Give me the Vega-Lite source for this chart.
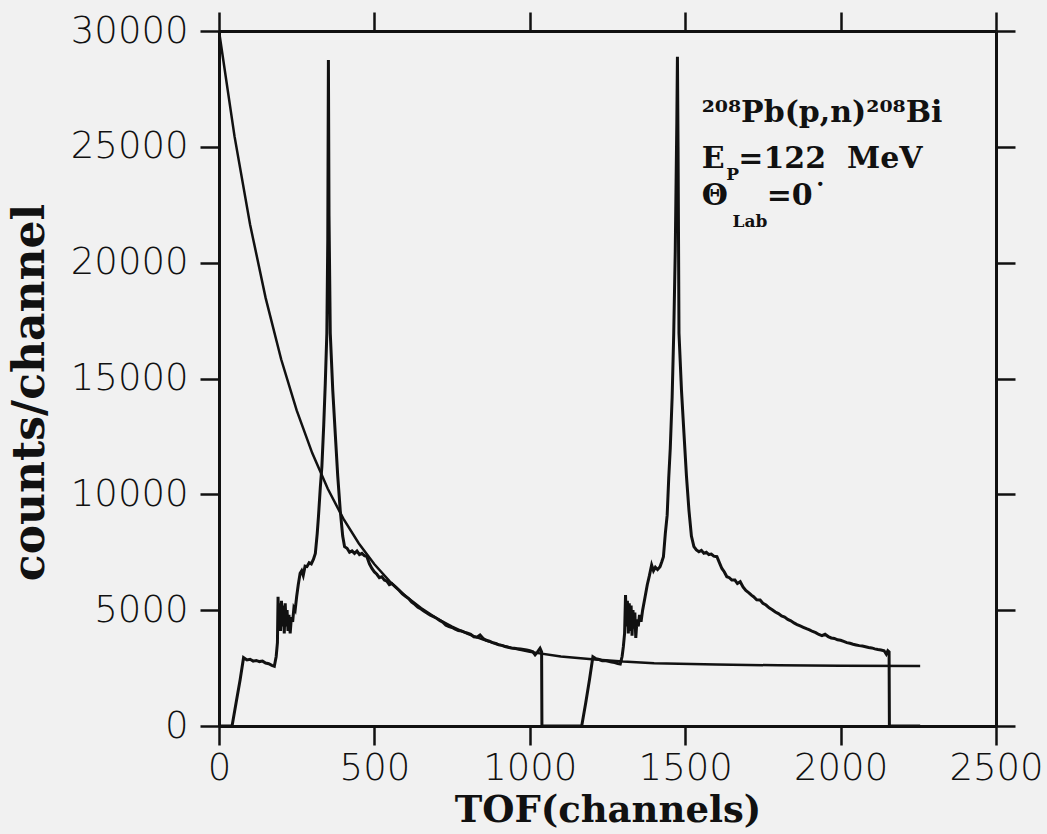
{
  "$schema": "https://vega.github.io/schema/vega-lite/v6.json",
  "width": 777,
  "height": 695,
  "autosize": "none",
  "padding": {"left": 219, "top": 31, "right": 51, "bottom": 108},
  "background": "#f1f1f1",
  "config": {
    "view": {"stroke": null},
    "axis": {
      "domainColor": "#111111",
      "domainWidth": 3,
      "tickColor": "#111111",
      "tickWidth": 2.5,
      "tickSize": 19,
      "grid": false,
      "labelFlush": false,
      "labelOverlap": false,
      "labelFont": "DejaVu Sans",
      "labelFontSize": 37,
      "labelFontWeight": 300,
      "labelColor": "#111111",
      "titleFont": "DejaVu Serif",
      "titleFontWeight": "bold",
      "titleFontSize": 37,
      "titleColor": "#111111"
    }
  },
  "datasets": {
    "spectrum": [
      {"x": 0, "y": 0}, {"x": 42, "y": 0}, {"x": 55, "y": 1000}, {"x": 68, "y": 2000}, {"x": 79, "y": 2950},
      {"x": 90, "y": 2850}, {"x": 100, "y": 2880}, {"x": 110, "y": 2800}, {"x": 120, "y": 2830}, {"x": 130, "y": 2780},
      {"x": 140, "y": 2800}, {"x": 150, "y": 2720}, {"x": 160, "y": 2690}, {"x": 170, "y": 2620}, {"x": 178, "y": 2580},
      {"x": 184, "y": 3000}, {"x": 188, "y": 3600}, {"x": 190, "y": 5580}, {"x": 192, "y": 4200}, {"x": 195, "y": 5300},
      {"x": 198, "y": 4100}, {"x": 201, "y": 5400}, {"x": 204, "y": 4300}, {"x": 207, "y": 5200}, {"x": 210, "y": 4000},
      {"x": 213, "y": 5300}, {"x": 216, "y": 4300}, {"x": 219, "y": 5000}, {"x": 222, "y": 4100}, {"x": 225, "y": 4800},
      {"x": 229, "y": 4000}, {"x": 233, "y": 4700}, {"x": 237, "y": 4500}, {"x": 241, "y": 5100}, {"x": 245, "y": 5000},
      {"x": 250, "y": 5600}, {"x": 255, "y": 6100}, {"x": 261, "y": 6590}, {"x": 266, "y": 6700}, {"x": 271, "y": 6500},
      {"x": 277, "y": 6900}, {"x": 283, "y": 6880}, {"x": 290, "y": 7050}, {"x": 297, "y": 7000}, {"x": 304, "y": 7200},
      {"x": 310, "y": 7450}, {"x": 316, "y": 8300}, {"x": 320, "y": 9035}, {"x": 326, "y": 10300}, {"x": 331, "y": 11190},
      {"x": 337, "y": 13000}, {"x": 342, "y": 14800}, {"x": 347, "y": 16960}, {"x": 350, "y": 21000}, {"x": 352, "y": 28750},
      {"x": 354, "y": 22000}, {"x": 358, "y": 16960}, {"x": 366, "y": 14500}, {"x": 374, "y": 12630}, {"x": 382, "y": 10800},
      {"x": 390, "y": 9320}, {"x": 398, "y": 8200}, {"x": 404, "y": 7740}, {"x": 412, "y": 7670}, {"x": 420, "y": 7500},
      {"x": 428, "y": 7560}, {"x": 436, "y": 7450}, {"x": 444, "y": 7550}, {"x": 452, "y": 7400}, {"x": 460, "y": 7450},
      {"x": 468, "y": 7350}, {"x": 476, "y": 7308}, {"x": 484, "y": 7000}, {"x": 492, "y": 6800}, {"x": 500, "y": 6650},
      {"x": 508, "y": 6550}, {"x": 516, "y": 6400}, {"x": 524, "y": 6444}, {"x": 532, "y": 6300}, {"x": 540, "y": 6250},
      {"x": 548, "y": 6100}, {"x": 556, "y": 6150}, {"x": 564, "y": 6050}, {"x": 572, "y": 5950}, {"x": 580, "y": 5850},
      {"x": 590, "y": 5700}, {"x": 600, "y": 5600}, {"x": 610, "y": 5500}, {"x": 620, "y": 5350}, {"x": 630, "y": 5250},
      {"x": 640, "y": 5120}, {"x": 650, "y": 5050}, {"x": 660, "y": 4950}, {"x": 670, "y": 4870}, {"x": 680, "y": 4780},
      {"x": 690, "y": 4718}, {"x": 700, "y": 4650}, {"x": 710, "y": 4560}, {"x": 720, "y": 4480}, {"x": 730, "y": 4350},
      {"x": 740, "y": 4290}, {"x": 750, "y": 4250}, {"x": 760, "y": 4180}, {"x": 770, "y": 4120}, {"x": 780, "y": 4100},
      {"x": 790, "y": 4050}, {"x": 800, "y": 4010}, {"x": 810, "y": 3960}, {"x": 820, "y": 3850}, {"x": 830, "y": 3830},
      {"x": 840, "y": 3930}, {"x": 850, "y": 3780}, {"x": 860, "y": 3700}, {"x": 870, "y": 3660}, {"x": 880, "y": 3600},
      {"x": 890, "y": 3560}, {"x": 900, "y": 3500}, {"x": 910, "y": 3480}, {"x": 920, "y": 3430}, {"x": 930, "y": 3400},
      {"x": 940, "y": 3370}, {"x": 950, "y": 3360}, {"x": 960, "y": 3340}, {"x": 970, "y": 3320}, {"x": 980, "y": 3300},
      {"x": 990, "y": 3280}, {"x": 1000, "y": 3250}, {"x": 1010, "y": 3200}, {"x": 1017, "y": 3070}, {"x": 1025, "y": 3200},
      {"x": 1033, "y": 3354}, {"x": 1038, "y": 3200}, {"x": 1039, "y": 0}, {"x": 1167, "y": 0}, {"x": 1180, "y": 1000},
      {"x": 1192, "y": 2000}, {"x": 1203, "y": 2990}, {"x": 1213, "y": 2900}, {"x": 1223, "y": 2870}, {"x": 1233, "y": 2820},
      {"x": 1243, "y": 2830}, {"x": 1253, "y": 2790}, {"x": 1263, "y": 2760}, {"x": 1273, "y": 2740}, {"x": 1283, "y": 2700},
      {"x": 1291, "y": 2680}, {"x": 1297, "y": 3000}, {"x": 1301, "y": 3423}, {"x": 1305, "y": 4000}, {"x": 1308, "y": 5650},
      {"x": 1311, "y": 4300}, {"x": 1314, "y": 5400}, {"x": 1317, "y": 4000}, {"x": 1320, "y": 5300}, {"x": 1323, "y": 4100},
      {"x": 1326, "y": 5200}, {"x": 1329, "y": 3900}, {"x": 1332, "y": 5000}, {"x": 1335, "y": 4200}, {"x": 1338, "y": 4900},
      {"x": 1341, "y": 3800}, {"x": 1345, "y": 4600}, {"x": 1349, "y": 4300}, {"x": 1353, "y": 4800}, {"x": 1358, "y": 4500},
      {"x": 1363, "y": 5000}, {"x": 1371, "y": 5580}, {"x": 1378, "y": 6100}, {"x": 1385, "y": 6500}, {"x": 1392, "y": 6950},
      {"x": 1398, "y": 6700}, {"x": 1404, "y": 6850}, {"x": 1411, "y": 6750}, {"x": 1419, "y": 6876}, {"x": 1425, "y": 7100},
      {"x": 1430, "y": 7308}, {"x": 1436, "y": 8300}, {"x": 1442, "y": 9100}, {"x": 1447, "y": 10700}, {"x": 1452, "y": 12000},
      {"x": 1458, "y": 14200}, {"x": 1463, "y": 16900}, {"x": 1468, "y": 20500}, {"x": 1473, "y": 26000}, {"x": 1475, "y": 28890},
      {"x": 1477, "y": 25000}, {"x": 1480, "y": 16960}, {"x": 1488, "y": 14500}, {"x": 1496, "y": 12630}, {"x": 1504, "y": 10800},
      {"x": 1512, "y": 9320}, {"x": 1520, "y": 8200}, {"x": 1528, "y": 7740}, {"x": 1536, "y": 7600}, {"x": 1544, "y": 7520},
      {"x": 1552, "y": 7580}, {"x": 1560, "y": 7455}, {"x": 1568, "y": 7500}, {"x": 1576, "y": 7400}, {"x": 1584, "y": 7420},
      {"x": 1592, "y": 7330}, {"x": 1602, "y": 7308}, {"x": 1610, "y": 7050}, {"x": 1618, "y": 6800}, {"x": 1626, "y": 6650},
      {"x": 1634, "y": 6444}, {"x": 1642, "y": 6400}, {"x": 1650, "y": 6300}, {"x": 1660, "y": 6300}, {"x": 1668, "y": 6150},
      {"x": 1677, "y": 6229}, {"x": 1686, "y": 6000}, {"x": 1695, "y": 5850}, {"x": 1705, "y": 5750}, {"x": 1713, "y": 5650},
      {"x": 1720, "y": 5580}, {"x": 1730, "y": 5450}, {"x": 1741, "y": 5439}, {"x": 1750, "y": 5300}, {"x": 1760, "y": 5220},
      {"x": 1770, "y": 5100}, {"x": 1780, "y": 5020}, {"x": 1790, "y": 4920}, {"x": 1800, "y": 4850}, {"x": 1810, "y": 4750},
      {"x": 1820, "y": 4700}, {"x": 1830, "y": 4600}, {"x": 1840, "y": 4540}, {"x": 1850, "y": 4450}, {"x": 1860, "y": 4380},
      {"x": 1870, "y": 4320}, {"x": 1880, "y": 4260}, {"x": 1890, "y": 4200}, {"x": 1900, "y": 4150}, {"x": 1910, "y": 4080},
      {"x": 1920, "y": 4030}, {"x": 1930, "y": 3950}, {"x": 1940, "y": 3900}, {"x": 1950, "y": 3960}, {"x": 1960, "y": 3860},
      {"x": 1970, "y": 3800}, {"x": 1980, "y": 3780}, {"x": 1990, "y": 3720}, {"x": 2000, "y": 3700}, {"x": 2010, "y": 3650},
      {"x": 2020, "y": 3600}, {"x": 2030, "y": 3570}, {"x": 2040, "y": 3530}, {"x": 2050, "y": 3500}, {"x": 2060, "y": 3470},
      {"x": 2070, "y": 3450}, {"x": 2080, "y": 3420}, {"x": 2090, "y": 3390}, {"x": 2100, "y": 3370}, {"x": 2110, "y": 3330},
      {"x": 2120, "y": 3300}, {"x": 2130, "y": 3280}, {"x": 2140, "y": 3250}, {"x": 2147, "y": 3100}, {"x": 2152, "y": 3250},
      {"x": 2156, "y": 3200}, {"x": 2157, "y": 0}, {"x": 2256, "y": 0}
    ],
    "background": [
      {"x": 0, "y": 30000}, {"x": 50, "y": 25450}, {"x": 100, "y": 21650}, {"x": 150, "y": 18480}, {"x": 200, "y": 15830},
      {"x": 250, "y": 13620}, {"x": 300, "y": 11780}, {"x": 350, "y": 10240}, {"x": 400, "y": 8950}, {"x": 450, "y": 7880},
      {"x": 500, "y": 6980}, {"x": 550, "y": 6230}, {"x": 600, "y": 5610}, {"x": 650, "y": 5090}, {"x": 700, "y": 4650},
      {"x": 750, "y": 4290}, {"x": 800, "y": 3980}, {"x": 850, "y": 3730}, {"x": 900, "y": 3520}, {"x": 950, "y": 3340},
      {"x": 1000, "y": 3200}, {"x": 1100, "y": 3000}, {"x": 1200, "y": 2880}, {"x": 1300, "y": 2780}, {"x": 1400, "y": 2710},
      {"x": 1600, "y": 2650}, {"x": 1800, "y": 2620}, {"x": 2000, "y": 2600}, {"x": 2256, "y": 2590}
    ],
    "labels": [
      {"x": 1553, "y": 26085, "text": "²⁰⁸Pb(p,n)²⁰⁸Bi", "kind": "main"},
      {"x": 1553, "y": 24086, "text": "E", "kind": "main"},
      {"x": 1632, "y": 23568, "text": "P", "kind": "sub"},
      {"x": 1671, "y": 24086, "text": "=122\u00a0\u00a0MeV", "kind": "main"},
      {"x": 1553, "y": 22489, "text": "Θ", "kind": "main"},
      {"x": 1652, "y": 21553, "text": "Lab", "kind": "sub"},
      {"x": 1762, "y": 22489, "text": "=0˙", "kind": "main"}
    ]
  },
  "layer": [
    {
      "data": {"name": "background"},
      "mark": {"type": "line", "color": "#111111", "strokeWidth": 2.5},
      "encoding": {
        "x": {"field": "x", "type": "quantitative", "scale": {"domain": [0, 2500], "nice": false, "zero": false},
              "axis": {"orient": "top", "values": [0, 500, 1000, 1500, 2000, 2500], "labels": false, "title": null}},
        "y": {"field": "y", "type": "quantitative", "scale": {"domain": [0, 30000], "nice": false, "zero": false},
              "axis": {"orient": "right", "values": [0, 5000, 10000, 15000, 20000, 25000, 30000], "labels": false, "title": null}}
      }
    },
    {
      "data": {"name": "spectrum"},
      "mark": {"type": "line", "color": "#111111", "strokeWidth": 3},
      "encoding": {
        "x": {"field": "x", "type": "quantitative", "scale": {"domain": [0, 2500], "nice": false, "zero": false},
              "axis": {"orient": "bottom", "values": [0, 500, 1000, 1500, 2000, 2500], "format": "d", "labelPadding": 5, "title": "TOF(channels)", "titlePadding": 6}},
        "y": {"field": "y", "type": "quantitative", "scale": {"domain": [0, 30000], "nice": false, "zero": false},
              "axis": {"orient": "left", "values": [0, 5000, 10000, 15000, 20000, 25000, 30000], "format": "d", "labelPadding": 12, "title": "counts/channel", "titleFontSize": 44, "titleY": 361, "titlePadding": 18}}
      }
    },
    {
      "data": {"name": "labels"},
      "transform": [{"filter": "datum.kind === 'main'"}],
      "mark": {"type": "text", "align": "left", "baseline": "alphabetic", "font": "DejaVu Serif", "fontWeight": "bold", "fontSize": 30, "color": "#111111"},
      "encoding": {
        "x": {"field": "x", "type": "quantitative", "axis": null},
        "y": {"field": "y", "type": "quantitative", "axis": null},
        "text": {"field": "text"}
      }
    },
    {
      "data": {"name": "labels"},
      "transform": [{"filter": "datum.kind === 'sub'"}],
      "mark": {"type": "text", "align": "left", "baseline": "alphabetic", "font": "DejaVu Serif", "fontWeight": "bold", "fontSize": 17, "color": "#111111"},
      "encoding": {
        "x": {"field": "x", "type": "quantitative", "axis": null},
        "y": {"field": "y", "type": "quantitative", "axis": null},
        "text": {"field": "text"}
      }
    }
  ],
  "resolve": {"axis": {"x": "independent", "y": "independent"}}
}
